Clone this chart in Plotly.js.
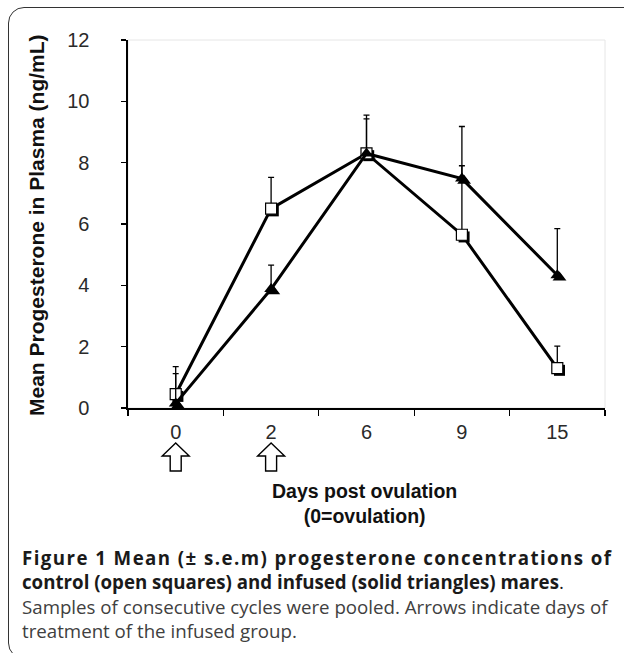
<!DOCTYPE html>
<html>
<head>
<meta charset="utf-8">
<script src="https://cdn.plot.ly/plotly-3.0.1.min.js"></script>
<style>
  html, body { margin: 0; padding: 0; background: #fff; }
  #wrap { position: relative; width: 624px; height: 653px; overflow: hidden; }
  #chart { position: absolute; left: 0; top: 0; width: 624px; height: 653px; }
  #frame { position: absolute; left: 8px; top: 7px; width: 660px; height: 650px;
           border: 1.5px solid #333; border-radius: 16px; pointer-events: none; }
</style>
</head>
<body>
<div id="wrap">
  <div id="chart"></div>
  <div id="frame"></div>
</div>
<script>
// ---- data ----
const days = ['0', '2', '6', '9', '15'];
const controlMean = [0.45, 6.5, 8.3, 5.65, 1.3];
const controlSemUp = [0.9, 1.02, 1.25, 2.25, 0.72];
const infusedMean = [0.15, 3.88, 8.3, 7.48, 4.33];
const infusedSemUp = [0.97, 0.78, 1.13, 1.7, 1.52];
const treatmentDays = ['0', '2'];
const yTicks = [0, 2, 4, 6, 8, 10, 12];

const W = 624, H = 653;
const L = 128, R = 19, T = 40, B = 245;
const plotW = W - L - R, plotH = H - T - B;
const px = v => (v - L) / plotW;          // page x -> paper x
const py = v => (H - B - v) / plotH;      // page y -> paper y

const shadowDX = 2.2 / (plotW / 5);
const shadowDY = 2.2 / (plotH / 12);

const traces = [
  // marker shadows (hidden, slightly shifted axes)
  { x: days, y: controlMean, mode: 'markers', xaxis: 'x', yaxis: 'y', hoverinfo: 'skip',
    marker: { symbol: 'square', size: 11, color: '#000' }, showlegend: false },
  { x: days, y: infusedMean, mode: 'markers', xaxis: 'x', yaxis: 'y', hoverinfo: 'skip',
    marker: { symbol: 'triangle-up', size: 12, color: '#000' }, showlegend: false },
  // main series
  { x: days, y: controlMean, mode: 'lines+markers', name: 'control', xaxis: 'x2', yaxis: 'y2',
    line: { color: '#000', width: 3 },
    marker: { symbol: 'square', size: 11, color: '#fff', line: { color: '#000', width: 1.2 } },
    error_y: { type: 'data', symmetric: false, array: controlSemUp,
               arrayminus: controlSemUp.map(() => 0), color: '#000', thickness: 1.3, width: 3 },
    showlegend: false },
  { x: days, y: infusedMean, mode: 'lines+markers', name: 'infused', xaxis: 'x2', yaxis: 'y2',
    line: { color: '#000', width: 3 },
    marker: { symbol: 'triangle-up', size: 12, color: '#000' },
    error_y: { type: 'data', symmetric: false, array: infusedSemUp,
               arrayminus: infusedSemUp.map(() => 0), color: '#000', thickness: 1.3, width: 3 },
    showlegend: false }
];

const SANS = 'Liberation Sans, Arial, sans-serif';
const tickFont = { family: SANS, size: 20, color: '#2a2a2a' };

const annotations = [];
// y-axis title
annotations.push({
  x: px(36), xref: 'paper', y: py(225), yref: 'paper', showarrow: false, textangle: -90,
  text: '<b>Mean Progesterone in Plasma (ng/mL)</b>',
  font: { family: SANS, size: 21, color: '#111' }, xanchor: 'center', yanchor: 'middle'
});
// x-axis title (two lines)
annotations.push({
  x: px(364), xref: 'paper', y: py(503), yref: 'paper', showarrow: false,
  text: '<b>Days post ovulation</b><br><b>(0=ovulation)</b>',
  font: { family: SANS, size: 19.5, color: '#111' }, xanchor: 'center', yanchor: 'middle', borderpad: 0
});

// caption (one block)
const captionBold1 = 'Figure 1 Mean (± s.e.m) progesterone concentrations of';
const captionBold2 = 'control (open squares) and infused (solid triangles) mares';
const captionNorm1 = 'Samples of consecutive cycles were pooled. Arrows indicate days of';
const captionNorm2 = 'treatment of the infused group.';
annotations.push({
  x: px(21), xref: 'paper', y: py(594), yref: 'paper', showarrow: false,
  xanchor: 'left', yanchor: 'middle', align: 'left', borderpad: 0,
  font: { family: 'Open Sans, sans-serif', size: 18.7, color: '#1a1a1a' },
  text: '<b>' + captionBold1 + '</b><br><b>' + captionBold2 + '</b>.<br>' +
        '<span style="color:#404040">' + captionNorm1 + '</span><br>' +
        '<span style="color:#404040">' + captionNorm2 + '</span>'
});

// open block arrows under treatment days (pixel-sized glyph anchored at the category)
const arrowPath = 'M0,14 L13.5,1 L5.5,1 L5.5,-14 L-5.5,-14 L-5.5,1 L-13.5,1 Z';
const shapes = [{ type: 'rect', xref: 'paper', yref: 'paper', x0: 0, x1: 1, y0: 0, y1: 1,
                  line: { color: '#e6e6e6', width: 1 }, layer: 'below' }];
treatmentDays.forEach(d => shapes.push({
  type: 'path', xref: 'x2', yref: 'paper', xsizemode: 'pixel', ysizemode: 'pixel',
  xanchor: days.indexOf(d), yanchor: py(457), path: arrowPath,
  line: { color: '#000', width: 1.4 }, fillcolor: '#fff', layer: 'above'
}));

const layout = {
  width: W, height: H,
  margin: { l: L, r: R, t: T, b: B, pad: 0 },
  paper_bgcolor: '#fff', plot_bgcolor: '#fff',
  showlegend: false,
  xaxis: { type: 'category', range: [-0.5 - shadowDX, 4.5 - shadowDX], visible: false, fixedrange: true },
  yaxis: { range: [0 + shadowDY, 12 + shadowDY], visible: false, fixedrange: true },
  xaxis2: {
    type: 'category', overlaying: 'x', range: [-0.5, 4.5], tickson: 'boundaries',
    ticks: 'outside', ticklen: 6, tickwidth: 1.3, tickcolor: '#000',
    showline: true, linecolor: '#000', linewidth: 2, showgrid: false, zeroline: false,
    tickfont: tickFont, ticklabelstandoff: 5, fixedrange: true
  },
  yaxis2: {
    overlaying: 'y', side: 'left', range: [0, 12], tickvals: yTicks,
    ticks: 'outside', ticklen: 5, tickwidth: 1.3, tickcolor: '#000',
    showline: true, linecolor: '#000', linewidth: 1.6, showgrid: false, zeroline: false,
    tickfont: tickFont, ticklabelstandoff: 28, fixedrange: true
  },
  shapes: shapes,
  annotations: annotations
};

Plotly.newPlot('chart', traces, layout, { displayModeBar: false, staticPlot: true }).then(gd => {
  // justify the first caption line (as in the printed figure) with letter spacing
  const texts = gd.querySelectorAll('.annotation-text');
  const cap = texts[texts.length - 1];
  const firstLine = cap && cap.querySelector('tspan.line');
  if (firstLine && firstLine.getComputedTextLength) {
    const natural = firstLine.getComputedTextLength();
    const target = 589;
    const n = captionBold1.length - 1;
    if (natural < target) firstLine.style.letterSpacing = ((target - natural) / n).toFixed(2) + 'px';
  }
});
</script>
</body>
</html>
